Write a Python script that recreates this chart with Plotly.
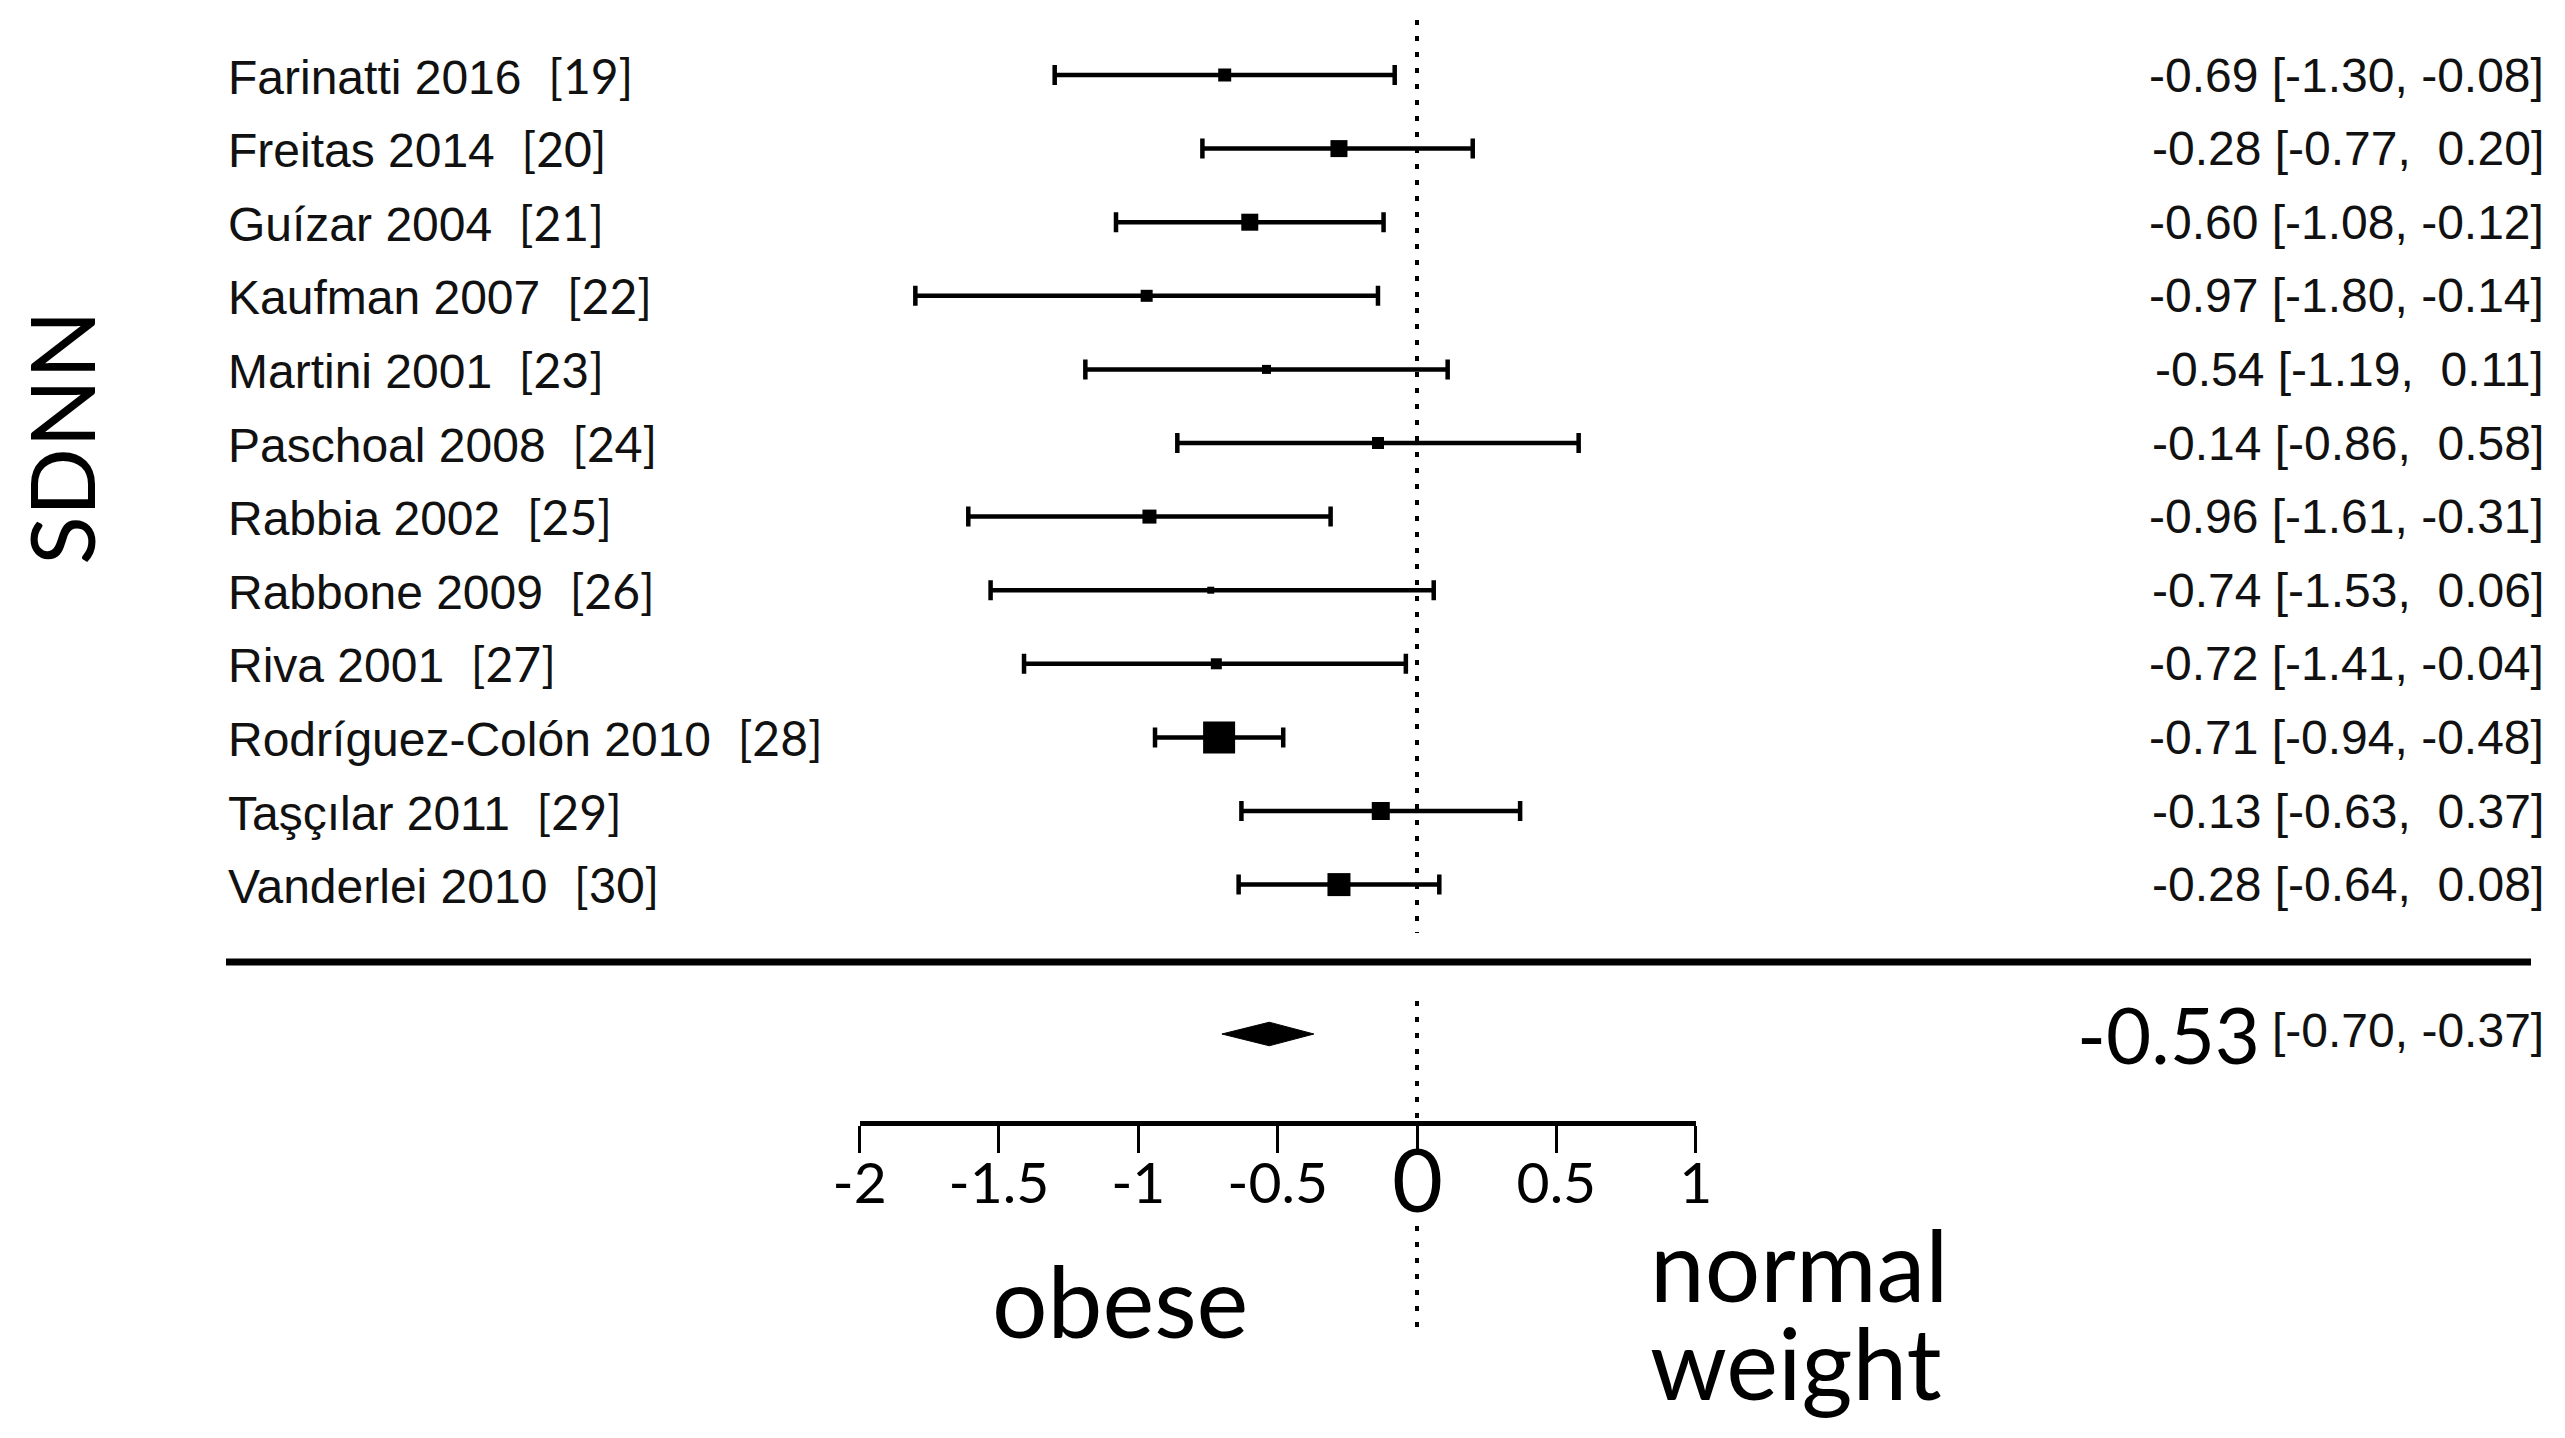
import plotly.graph_objects as go

# ---------------- data ----------------
studies = ["Farinatti 2016", "Freitas 2014", "Guízar 2004", "Kaufman 2007",
           "Martini 2001", "Paschoal 2008", "Rabbia 2002", "Rabbone 2009",
           "Riva 2001", "Rodríguez-Colón 2010", "Taşçılar 2011", "Vanderlei 2010"]
refs = ["[19]", "[20]", "[21]", "[22]", "[23]", "[24]", "[25]", "[26]",
        "[27]", "[28]", "[29]", "[30]"]
est = [-0.69, -0.28, -0.60, -0.97, -0.54, -0.14, -0.96, -0.74, -0.72, -0.71, -0.13, -0.28]
ci_lo = [-1.30, -0.77, -1.08, -1.80, -1.19, -0.86, -1.61, -1.53, -1.41, -0.94, -0.63, -0.64]
ci_hi = [-0.08, 0.20, -0.12, -0.14, 0.11, 0.58, -0.31, 0.06, -0.04, -0.48, 0.37, 0.08]
weights = [6.5, 8.5, 8.5, 6.0, 4.5, 6.0, 7.0, 3.5, 5.5, 16.0, 9.0, 11.5]  # relative study weight
pooled_est = -0.53
pooled_lo = -0.70
pooled_hi = -0.37
tick_vals = [-2, -1.5, -1, -0.5, 0, 0.5, 1]
tick_text = ["-2", "-1.5", "-1", "-0.5", "", "0.5", "1"]
outcome = "SDNN"
left_label = "obese"
right_label = ["normal", "weight"]

# ---------------- geometry ----------------
W, H = 2565, 1438
ZERO_PX, UNIT_PX = 1417, 278.7
ROW0_PX, ROW_PX = 75, 73.6


def px_to_x(p):
    return (p - ZERO_PX) / UNIT_PX


def px_to_row(p):
    return (p - ROW0_PX) / ROW_PX


rows = list(range(len(studies)))
pooled_row = px_to_row(1034)
FONT_A = "Liberation Sans, Arial, sans-serif"
FONT_C = "Lato, Carlito, Calibri, sans-serif"

fig = go.Figure()

# study estimates with CIs
fig.add_trace(go.Scatter(
    x=est, y=rows, mode="markers",
    marker=dict(symbol="square", color="#000000", opacity=1,
                size=[2.0 * w for w in weights], line=dict(width=0, color="#000000")),
    error_x=dict(type="data", symmetric=False,
                 array=[h - e for h, e in zip(ci_hi, est)],
                 arrayminus=[e - l for e, l in zip(est, ci_lo)],
                 color="#000000", thickness=4.5, width=10),
    showlegend=False, hoverinfo="skip"))

# pooled diamond
dh = 0.16
fig.add_trace(go.Scatter(
    x=[pooled_lo, pooled_est, pooled_hi, pooled_est, pooled_lo],
    y=[pooled_row, pooled_row - dh, pooled_row, pooled_row + dh, pooled_row],
    mode="lines", fill="toself", fillcolor="black",
    line=dict(color="black", width=1), showlegend=False, hoverinfo="skip"))

# dummy trace on the visible scale axis
fig.add_trace(go.Scatter(x=[tick_vals[0], tick_vals[-1]], y=[0, 0], xaxis="x2", yaxis="y2",
                         mode="markers", marker=dict(opacity=0), showlegend=False, hoverinfo="skip"))

shapes = []
# dotted line of no effect
for a, b in [(20, 933), (1001, 1121), (1226, 1332)]:
    shapes.append(dict(type="line", xref="x", yref="y", x0=0, x1=0,
                       y0=px_to_row(a), y1=px_to_row(b),
                       line=dict(color="black", width=4, dash="5px,11px")))
# thick separator
shapes.append(dict(type="line", xref="paper", yref="y", x0=226 / W, x1=2531 / W,
                   y0=px_to_row(962), y1=px_to_row(962), line=dict(color="black", width=7)))

annotations = []
for r, s, rf, e, l, h in zip(rows, studies, refs, est, ci_lo, ci_hi):
    annotations.append(dict(
        xref="paper", yref="y", x=226 / W, y=r, xanchor="left", yanchor="middle",
        text=f"{s}\u00a0\u00a0<span style='font-family:Lato'>{rf}</span>",
        showarrow=False, font=dict(family=FONT_A, size=48, color="#111")))
    hs = f"{h:.2f}" if h < 0 else f"\u00a0{h:.2f}"
    annotations.append(dict(
        xref="paper", yref="y", x=2546 / W, y=r, xanchor="right", yanchor="middle",
        text=f"{e:.2f} [{l:.2f}, {hs}]",
        showarrow=False, font=dict(family=FONT_A, size=48, color="#111")))

annotations.append(dict(xref="paper", yref="y", x=2546 / W, y=pooled_row - 0.05,
                        xanchor="right", yanchor="middle",
                        text=f"[{pooled_lo:.2f}, {pooled_hi:.2f}]", showarrow=False,
                        font=dict(family=FONT_A, size=48, color="#111")))
annotations.append(dict(xref="paper", yref="y", x=2262 / W, y=pooled_row,
                        xanchor="right", yanchor="middle",
                        text=f"{pooled_est:.2f}", showarrow=False,
                        font=dict(family=FONT_C, size=78, color="black")))
# outcome label
annotations.append(dict(xref="paper", yref="y", x=60 / W, y=px_to_row(438),
                        xanchor="center", yanchor="middle", textangle=-90,
                        text=outcome, showarrow=False,
                        font=dict(family=FONT_C, size=90, color="black")))
# big zero label
annotations.append(dict(xref="x", yref="y", x=0, y=px_to_row(1178),
                        xanchor="center", yanchor="middle", text="0", showarrow=False,
                        font=dict(family=FONT_C, size=88, color="black")))
# direction labels
annotations.append(dict(xref="paper", yref="y", x=1120 / W, y=px_to_row(1300),
                        xanchor="center", yanchor="middle", text=left_label, showarrow=False,
                        font=dict(family=FONT_C, size=98, color="black")))
annotations.append(dict(xref="paper", yref="y", x=1648 / W, y=px_to_row(1264),
                        xanchor="left", yanchor="middle", text=right_label[0], showarrow=False,
                        font=dict(family=FONT_C, size=98, color="black")))
annotations.append(dict(xref="paper", yref="y", x=1648 / W, y=px_to_row(1362),
                        xanchor="left", yanchor="middle", text=right_label[1], showarrow=False,
                        font=dict(family=FONT_C, size=98, color="black")))

axis_px = 1121
fig.update_layout(
    width=W, height=H, margin=dict(l=0, r=0, t=0, b=0, pad=0, autoexpand=False),
    paper_bgcolor="white", plot_bgcolor="rgba(0,0,0,0)",
    xaxis=dict(range=[px_to_x(0), px_to_x(W)], domain=[0, 1], visible=False, fixedrange=True),
    yaxis=dict(range=[px_to_row(H), px_to_row(0)], domain=[0, 1], visible=False, fixedrange=True),
    xaxis2=dict(range=[tick_vals[0], tick_vals[-1]],
                domain=[(ZERO_PX + tick_vals[0] * UNIT_PX) / W, (ZERO_PX + tick_vals[-1] * UNIT_PX) / W],
                anchor="y2", showline=True, linewidth=5, linecolor="black",
                ticks="outside", ticklen=27, tickwidth=3, tickcolor="black",
                tickvals=tick_vals, ticktext=tick_text, showgrid=False, zeroline=False,
                ticklabelstandoff=-18, automargin=False,
                tickfont=dict(family=FONT_C, size=57, color="black"), fixedrange=True),
    yaxis2=dict(domain=[(H - axis_px) / H, (H - axis_px + 20) / H], visible=False,
                range=[0, 1], fixedrange=True),
    shapes=shapes, annotations=annotations,
)

fig.write_html("out.html", config={"displayModeBar": False},
               post_script="document.body.style.margin='0';document.body.style.overflow='hidden';")
